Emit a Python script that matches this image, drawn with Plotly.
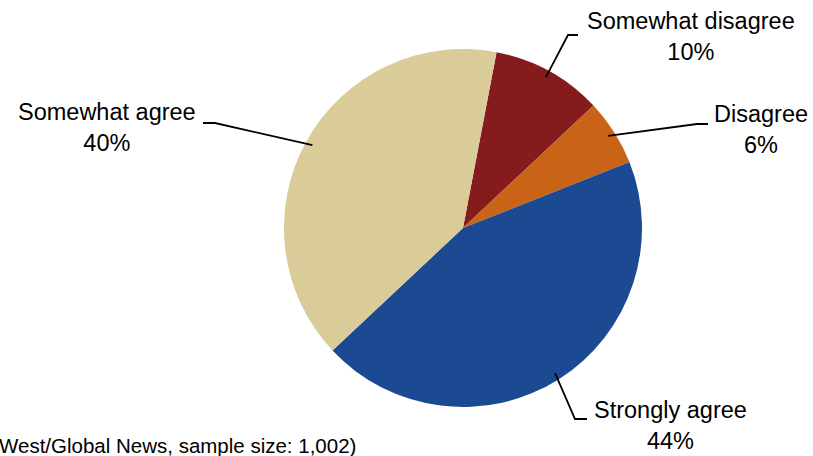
import math
import plotly.graph_objects as go

# ---- data ----
labels = ["Somewhat disagree", "Disagree", "Strongly agree", "Somewhat agree"]
values = [10, 6, 44, 40]
colors = ["#861B1E", "#C96318", "#1C4A92", "#D9CC99"]
source_note = "West/Global News, sample size: 1,002)"

# ---- layout constants (pixels) ----
W, H = 813, 456
CX, CY, R = 463, 228, 179
ROTATION = 10.8
FONT = "Liberation Sans, Arial, sans-serif"
FS = 23.5
# text center x, text center y, elbow x, elbow y, line end x
LABEL_LAYOUT = {
    "Somewhat disagree": (691, 37, 568, 35, 578),
    "Disagree": (761, 129, 697, 124, 708),
    "Strongly agree": (670, 425, 575, 419, 587),
    "Somewhat agree": (107, 127, 215, 123, 203),
}


def px(x):
    return x / W


def py(y):
    return (H - y) / H


fig = go.Figure(
    go.Pie(
        labels=labels,
        values=values,
        marker=dict(colors=colors, line=dict(width=0)),
        sort=False,
        direction="clockwise",
        rotation=ROTATION,
        textinfo="none",
        hoverinfo="label+percent",
        showlegend=False,
        domain=dict(x=[px(CX - R), px(CX + R)], y=[py(CY + R), py(CY - R)]),
    )
)

total = sum(values)
cum = 0
annotations = []
shapes = []
for lab, v in zip(labels, values):
    mid = math.radians(ROTATION + 360 * (cum + v / 2) / total)
    cum += v
    ax = CX + R * 0.96 * math.sin(mid)
    ay = CY - R * 0.96 * math.cos(mid)
    tx, ty, ex, ey, endx = LABEL_LAYOUT[lab]
    path = f"M {px(ax)} {py(ay)} L {px(ex)} {py(ey)} L {px(endx)} {py(ey)}"
    shapes.append(dict(type="path", xref="paper", yref="paper", path=path,
                       line=dict(color="black", width=1.8)))
    pct = round(100 * v / total)
    annotations.append(dict(
        x=px(tx), y=py(ty), xref="paper", yref="paper",
        xanchor="center", yanchor="middle", showarrow=False,
        text=f"{lab}<br>{pct}%", align="center",
        font=dict(family=FONT, size=FS, color="black"),
    ))

annotations.append(dict(
    x=px(-3), y=py(445), xref="paper", yref="paper",
    xanchor="left", yanchor="middle", showarrow=False,
    text=source_note, font=dict(family=FONT, size=20.5, color="black"),
))

fig.update_layout(
    width=W, height=H,
    margin=dict(l=0, r=0, t=0, b=0),
    paper_bgcolor="white", plot_bgcolor="white",
    annotations=annotations, shapes=shapes,
)

fig.write_html("out.html")
